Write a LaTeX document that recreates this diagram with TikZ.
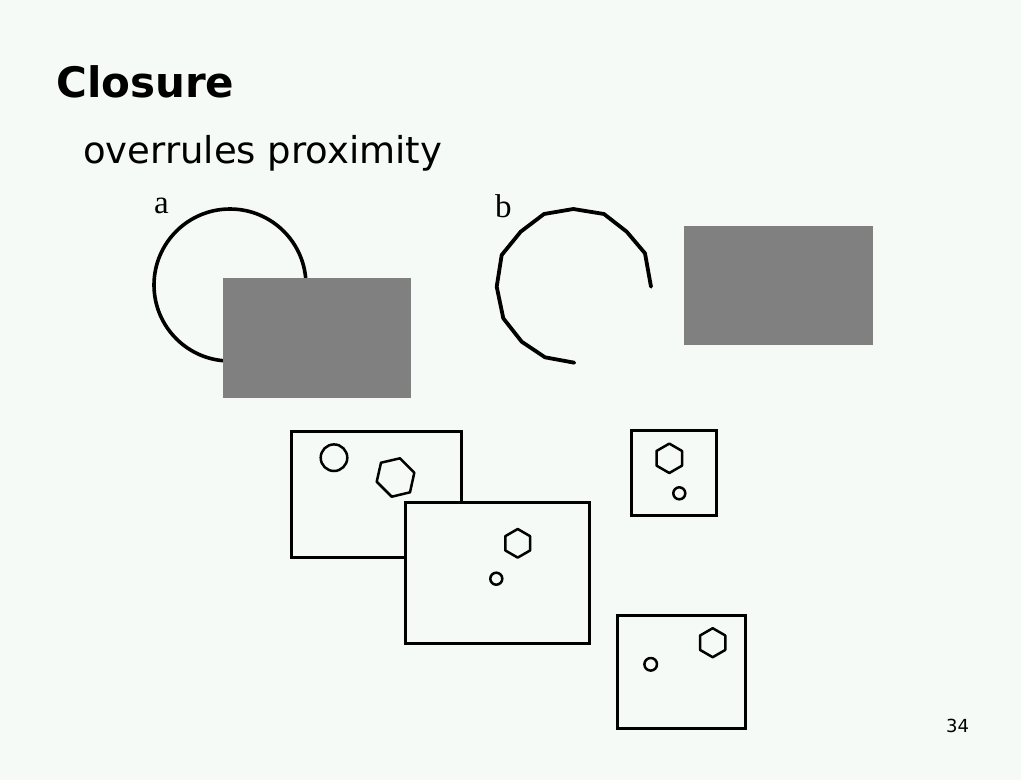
\documentclass[tikz,border=0pt]{standalone}
\usepackage{fontspec}
\setmainfont{DejaVu Sans}
\newfontfamily\serifit{Liberation Serif}
\definecolor{bgc}{RGB}{246,250,247}
\definecolor{panelgray}{RGB}{128,128,128}
\tikzset{
  frame/.style={draw=black, line width=3pt, fill=bgc},
  shapeline/.style={draw=black, line width=2.5pt, line join=round},
  arcline/.style={draw=black, line width=3.8pt, line join=round, line cap=round},
  grayblock/.style={fill=panelgray, draw=none},
  txt/.style={inner sep=0pt, anchor=base west, text=black}
}
\begin{document}
\begin{tikzpicture}[x=1pt,y=-1pt]
\fill[bgc] (0,0) rectangle (1021,780);
\useasboundingbox (0,0) rectangle (1021,780);

% titles
\node[txt, font=\bfseries\fontsize{42}{50}\selectfont] (title) at (56,97) {Closure};
\node[txt, font=\fontsize{37}{44}\selectfont] (subtitle) at (83,163) {overrules proximity};

% panel a
\node[txt, font=\serifit\fontsize{33}{38}\selectfont] (la) at (154,213) {a};
\draw[black, line width=3.6pt] (230,285) circle (76);
\fill[grayblock] (223,278) rectangle (411,398);

% panel b
\node[txt, font=\serifit\fontsize{33}{38}\selectfont] (lb) at (495,217) {b};
\draw[arcline] (574.3,362.7) -- (545,357.3) -- (521.7,341.7) -- (503.3,318.3)
  -- (496.7,286.7) -- (501.7,255) -- (520.7,231.7) -- (544,214) -- (573.3,209)
  -- (604,214) -- (626.7,231.7) -- (645,253.3) -- (651,286.7);
\fill[grayblock] (684,226) rectangle (873,345);

% bottom frames
\draw[frame] (291.7,431) rectangle (461,557);
\draw[shapeline] (334,457.7) circle (13.3);
\draw[shapeline] (381,462.7) -- (400,458.3) -- (414.3,472.7) -- (410,492.3)
  -- (391.7,496.7) -- (376.7,481.7) -- cycle;

\draw[frame] (405.7,502.3) rectangle (589,643);
\draw[shapeline] (517.7,543.3) +(90:14.3) -- +(30:14.3) -- +(-30:14.3)
  -- +(-90:14.3) -- +(-150:14.3) -- +(150:14.3) -- cycle;
\draw[shapeline] (496.3,578.7) circle (6);

\draw[frame] (631.7,430.7) rectangle (716.7,515);
\draw[shapeline] (669.3,458.3) +(90:14.7) -- +(30:14.7) -- +(-30:14.7)
  -- +(-90:14.7) -- +(-150:14.7) -- +(150:14.7) -- cycle;
\draw[shapeline] (679.3,493.3) circle (6);

\draw[frame] (617,615) rectangle (745,728);
\draw[shapeline] (712.7,642.7) +(90:14.5) -- +(30:14.5) -- +(-30:14.5)
  -- +(-90:14.5) -- +(-150:14.5) -- +(150:14.5) -- cycle;
\draw[shapeline] (650.7,664.3) circle (6.3);

% page number
\node[txt, font=\fontsize{18}{22}\selectfont] (pnum) at (946,732) {34};
\end{tikzpicture}
\end{document}
